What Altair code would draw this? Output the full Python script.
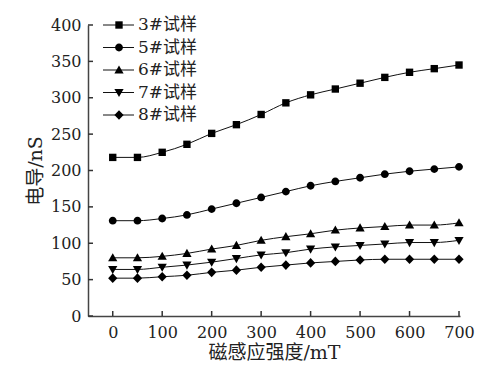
import altair as alt
import pandas as pd

field = [0, 50, 100, 150, 200, 250, 300, 350, 400, 450, 500, 550, 600, 650, 700]
series_names = ["3#试样", "5#试样", "6#试样", "7#试样", "8#试样"]
s3 = [218, 218, 225, 236, 251, 263, 277, 293, 304, 312, 320, 328, 335, 340, 345]
s5 = [131, 131, 134, 139, 147, 155, 163, 171, 179, 185, 190, 195, 199, 202, 205]
s6 = [80, 80, 82, 86, 92, 97, 104, 109, 113, 118, 121, 123, 125, 125, 128]
s7 = [64, 64, 67, 70, 74, 79, 84, 87, 92, 95, 97, 99, 101, 101, 104]
s8 = [52, 52, 54, 56, 60, 63, 67, 70, 73, 75, 77, 78, 78, 78, 78]
x_ticks = [0, 100, 200, 300, 400, 500, 600, 700]
y_ticks = [0, 50, 100, 150, 200, 250, 300, 350, 400]

rows = []
for name, vals in zip(series_names, [s3, s5, s6, s7, s8]):
    for x, v in zip(field, vals):
        rows.append({"B": x, "G": v, "series": name})
df = pd.DataFrame(rows)
leg = pd.DataFrame({"series": series_names})

shape_paths = [
    "M-0.8,-0.8H0.8V0.8H-0.8Z",
    "M-0.85,0A0.85,0.85 0 1,0 0.85,0A0.85,0.85 0 1,0 -0.85,0Z",
    "M0,-1L1,0.75H-1Z",
    "M0,1L1,-0.75H-1Z",
    "M0,-1.05L1,0L0,1.05L-1,0Z",
]
shape_scale = alt.Scale(domain=series_names, range=shape_paths)

font = "DejaVu Serif, Noto Sans CJK SC"
xscale = alt.Scale(domain=[-50, 702], nice=False, zero=False)
yscale = alt.Scale(domain=[0, 400], nice=False)

x_axis = alt.Axis(values=x_ticks, title="磁感应强度/mT", ticks=False,
                  labelPadding=8, titlePadding=3, labelOverlap=False, labelFlush=False)
y_axis = alt.Axis(values=y_ticks, title="电导/nS", ticks=False,
                  labelPadding=7, titlePadding=5, labelOverlap=False, labelFlush=False)

x_enc = alt.X("B:Q", scale=xscale, axis=x_axis, title="磁感应强度/mT")
y_enc = alt.Y("G:Q", scale=yscale, axis=y_axis, title="电导/nS")

lines = alt.Chart(df).mark_line(color="#111", strokeWidth=1, interpolate="monotone").encode(
    x=x_enc, y=y_enc, detail="series:N"
)
points = alt.Chart(df).mark_point(filled=True, color="black", size=85, opacity=1).encode(
    x=x_enc, y=y_enc,
    shape=alt.Shape("series:N", scale=shape_scale, legend=None),
)

xt = pd.DataFrame({"t": x_ticks})
yt = pd.DataFrame({"t": y_ticks})
xtick_marks = alt.Chart(xt).mark_rule(color="#333", strokeWidth=1.5, y2Offset=-5).encode(
    x=alt.X("t:Q", scale=xscale, axis=x_axis, title="磁感应强度/mT"),
    y=alt.datum(0, scale=yscale, axis=y_axis, title="电导/nS"), y2=alt.datum(0)
)
ytick_marks = alt.Chart(yt).mark_rule(color="#333", strokeWidth=1.5, x2Offset=5).encode(
    y=alt.Y("t:Q", scale=yscale, axis=y_axis, title="电导/nS"),
    x=alt.datum(-50, scale=xscale, axis=x_axis, title="磁感应强度/mT"), x2=alt.datum(-50)
)
main = alt.layer(lines, points, xtick_marks, ytick_marks)

leg_y = alt.Y("series:N", scale=alt.Scale(type="point", domain=series_names, range=[0, 90], padding=0),
              axis=None)
leg_line = alt.Chart(leg).mark_rule(color="#111", strokeWidth=1).encode(
    y=leg_y, x=alt.value(15), x2=alt.value(46)
)
leg_pts = alt.Chart(leg).mark_point(filled=True, color="black", size=85, opacity=1).encode(
    y=leg_y, x=alt.value(31), shape=alt.Shape("series:N", scale=shape_scale, legend=None)
)
leg_txt = alt.Chart(leg).mark_text(align="left", baseline="middle", font=font, fontSize=17,
                                   color="#222").encode(
    y=leg_y, x=alt.value(50), text="series:N"
)
legend = alt.layer(leg_line, leg_pts, leg_txt)

chart = alt.layer(main, legend).resolve_scale(y="independent").properties(
    width=372, height=291, padding={"left": 18, "top": 8, "right": 10, "bottom": 5}
).configure_view(stroke=None).configure_axis(
    grid=False, domainColor="#444", domainWidth=1.5,
    labelFont=font, titleFont=font, labelFontSize=16, titleFontSize=19,
    labelColor="#222", titleColor="#222", titleFontWeight="normal",
)

chart.save("out.html", embed_options={"renderer": "svg", "actions": False})
